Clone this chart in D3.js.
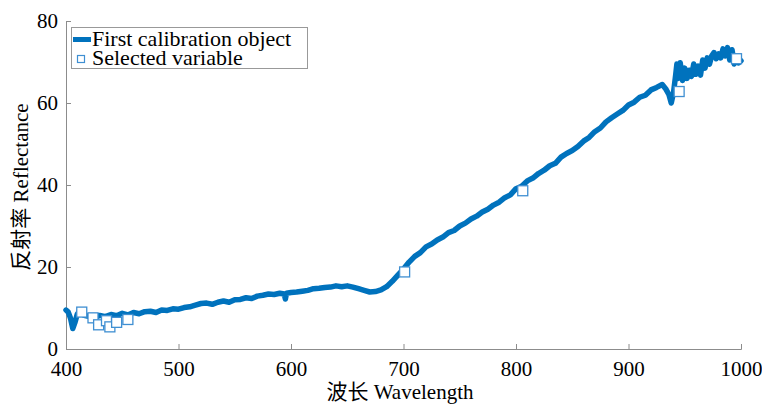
<!DOCTYPE html>
<html>
<head>
<meta charset="utf-8">
<script src="https://cdn.jsdelivr.net/npm/d3@7"></script>
<style>
  body { margin: 0; background: #fff; }
  text { font-family: "Liberation Serif", "Noto Sans CJK SC", serif; fill: #000; }
</style>
</head>
<body>
<svg id="svg" width="762" height="404"></svg>
<script>
// spectrum of first calibration object
var wavelengths = [400, 402, 404, 406, 408, 410, 412, 414, 416, 420, 425, 430, 435, 440, 445, 450, 455, 460, 465, 470,
    475, 480, 485, 490, 495, 500, 505, 510, 515, 520, 525, 530, 535, 540, 545, 550, 555, 560, 565, 570,
    575, 580, 585, 590, 594, 595, 596, 600, 605, 610, 615, 620, 625, 630, 635, 640, 645, 650, 655, 660,
    665, 670, 675, 680, 685, 690, 695, 700, 705, 710, 715, 720, 725, 730, 735, 740, 745, 750, 755, 760,
    765, 770, 775, 780, 785, 790, 795, 800, 805, 810, 815, 820, 825, 830, 835, 840, 845, 850, 855, 860,
    865, 870, 875, 880, 885, 890, 895, 900, 905, 910, 915, 920, 925, 930, 933, 936, 938, 940, 942, 943,
    944, 946, 948, 950, 952, 954, 956, 958, 960, 962, 964, 966, 968, 970, 972, 974, 976, 978, 980, 982,
    984, 986, 988, 990, 992, 994, 996, 998, 1000];
var reflectance = [9.5, 9.0, 7.5, 5.0, 6.5, 8.5, 9.2, 8.8, 8.2, 8.0, 7.6, 8.2, 7.9, 8.4, 8.1, 8.7, 8.3, 8.9, 8.6, 9.1,
    9.2, 8.9, 9.5, 9.4, 9.8, 9.7, 10.1, 10.3, 10.7, 11.1, 11.2, 10.9, 11.4, 11.7, 11.4, 12.0, 12.1, 12.5, 12.3, 12.9,
    13.1, 13.4, 13.3, 13.6, 13.4, 12.2, 13.6, 13.8, 13.9, 14.1, 14.3, 14.7, 14.8, 15.0, 15.1, 15.4, 15.2, 15.4, 15.1, 14.7,
    14.3, 13.9, 14.0, 14.4, 15.2, 16.5, 18.0, 19.5, 21.2, 22.6, 23.5, 24.9, 25.6, 26.6, 27.3, 28.4, 28.9, 30.0, 30.7, 31.7,
    32.4, 33.4, 34.1, 35.1, 35.8, 36.9, 37.6, 39.1, 39.7, 41.0, 41.7, 42.8, 43.6, 44.7, 45.3, 46.8, 47.7, 48.4, 49.4, 50.7,
    51.6, 53.0, 53.9, 55.4, 56.4, 57.3, 58.2, 59.5, 60.2, 61.4, 61.9, 63.2, 63.8, 64.5, 63.5, 62.0, 60.0, 62.5, 67.0, 69.5,
    66.0, 69.8, 65.5, 68.5, 66.0, 68.0, 66.5, 69.5, 67.0, 69.0, 66.8, 70.5, 68.5, 71.0, 69.5, 71.5, 72.3, 70.8, 72.0, 71.0,
    73.2, 71.5, 73.5, 70.5, 73.0, 69.5, 70.8, 69.8, 70.3];

// selected variables
var selWavelengths = [414, 424, 429, 436, 439, 445, 455, 701, 806, 945, 996];
var selValues = [9.0, 7.6, 5.9, 6.9, 5.4, 6.5, 7.2, 18.8, 38.6, 62.8, 70.8];

var xTicks = [400, 500, 600, 700, 800, 900, 1000];
var yTicks = [0, 20, 40, 60, 80];

var svg = d3.select("#svg");
var plotLeft = 66, plotRight = 741, plotTop = 21, plotBottom = 349;
var axisColor = "#8c8c8c";
var lineColor = "#0072bd";
var fontSize = "21px";

var x = d3.scaleLinear().domain([400, 1000]).range([plotLeft, plotRight]);
var y = d3.scaleLinear().domain([0, 80]).range([plotBottom, plotTop]);

// axes
var xAxis = svg.append("g")
    .attr("transform", "translate(0," + plotBottom + ")")
    .call(d3.axisBottom(x).tickValues(xTicks).tickSize(-5).tickPadding(12).tickFormat(d3.format("d")));
var yAxis = svg.append("g")
    .attr("transform", "translate(" + plotLeft + ",0)")
    .call(d3.axisLeft(y).tickValues(yTicks).tickSize(-5).tickPadding(8));

[xAxis, yAxis].forEach(function (g) {
    g.select(".domain").attr("stroke", axisColor).attr("stroke-width", 1);
    g.selectAll(".tick line").attr("stroke", axisColor);
    g.selectAll(".tick text")
        .style("font-family", "'Liberation Serif', serif")
        .style("font-size", fontSize)
        .attr("fill", "#000");
});
xAxis.selectAll(".tick text").attr("dy", "0.72em");

// spectrum line
var pts = wavelengths.map(function (w, i) { return [w, reflectance[i]]; });
svg.append("path")
    .datum(pts)
    .attr("fill", "none")
    .attr("stroke", lineColor)
    .attr("stroke-width", 5.5)
    .attr("stroke-linejoin", "round")
    .attr("stroke-linecap", "round")
    .attr("d", d3.line().x(function (d) { return x(d[0]); }).y(function (d) { return y(d[1]); }));

// selected variable markers
var ms = 10;
svg.append("g").selectAll("rect")
    .data(selWavelengths)
    .enter().append("rect")
    .attr("x", function (d) { return x(d) - ms / 2; })
    .attr("y", function (d, i) { return y(selValues[i]) - ms / 2; })
    .attr("width", ms)
    .attr("height", ms)
    .attr("fill", "#fff")
    .attr("stroke", "#3f8fd2")
    .attr("stroke-width", 1.3);

// axis titles
svg.append("text")
    .attr("x", 400)
    .attr("y", 399)
    .attr("text-anchor", "middle")
    .style("font-size", fontSize)
    .text("波长 Wavelength");

svg.append("text")
    .attr("transform", "translate(28," + 187 + ") rotate(-90)")
    .attr("text-anchor", "middle")
    .style("font-size", fontSize)
    .text("反射率 Reflectance");

// legend
var legend = svg.append("g");
legend.append("rect")
    .attr("x", 71.5).attr("y", 27.5)
    .attr("width", 236).attr("height", 41)
    .attr("fill", "#fff")
    .attr("stroke", "#999")
    .attr("stroke-width", 1);
legend.append("line")
    .attr("x1", 73).attr("x2", 91).attr("y1", 39.5).attr("y2", 39.5)
    .attr("stroke", lineColor).attr("stroke-width", 5);
legend.append("text")
    .attr("x", 92).attr("y", 45.5)
    .style("font-size", "22px")
    .text("First calibration object");
legend.append("rect")
    .attr("x", 77.5).attr("y", 55.5).attr("width", 7).attr("height", 7)
    .attr("fill", "#fff").attr("stroke", "#3f8fd2").attr("stroke-width", 1.2);
legend.append("text")
    .attr("x", 92).attr("y", 65)
    .style("font-size", "22px")
    .text("Selected variable");
</script>
</body>
</html>
